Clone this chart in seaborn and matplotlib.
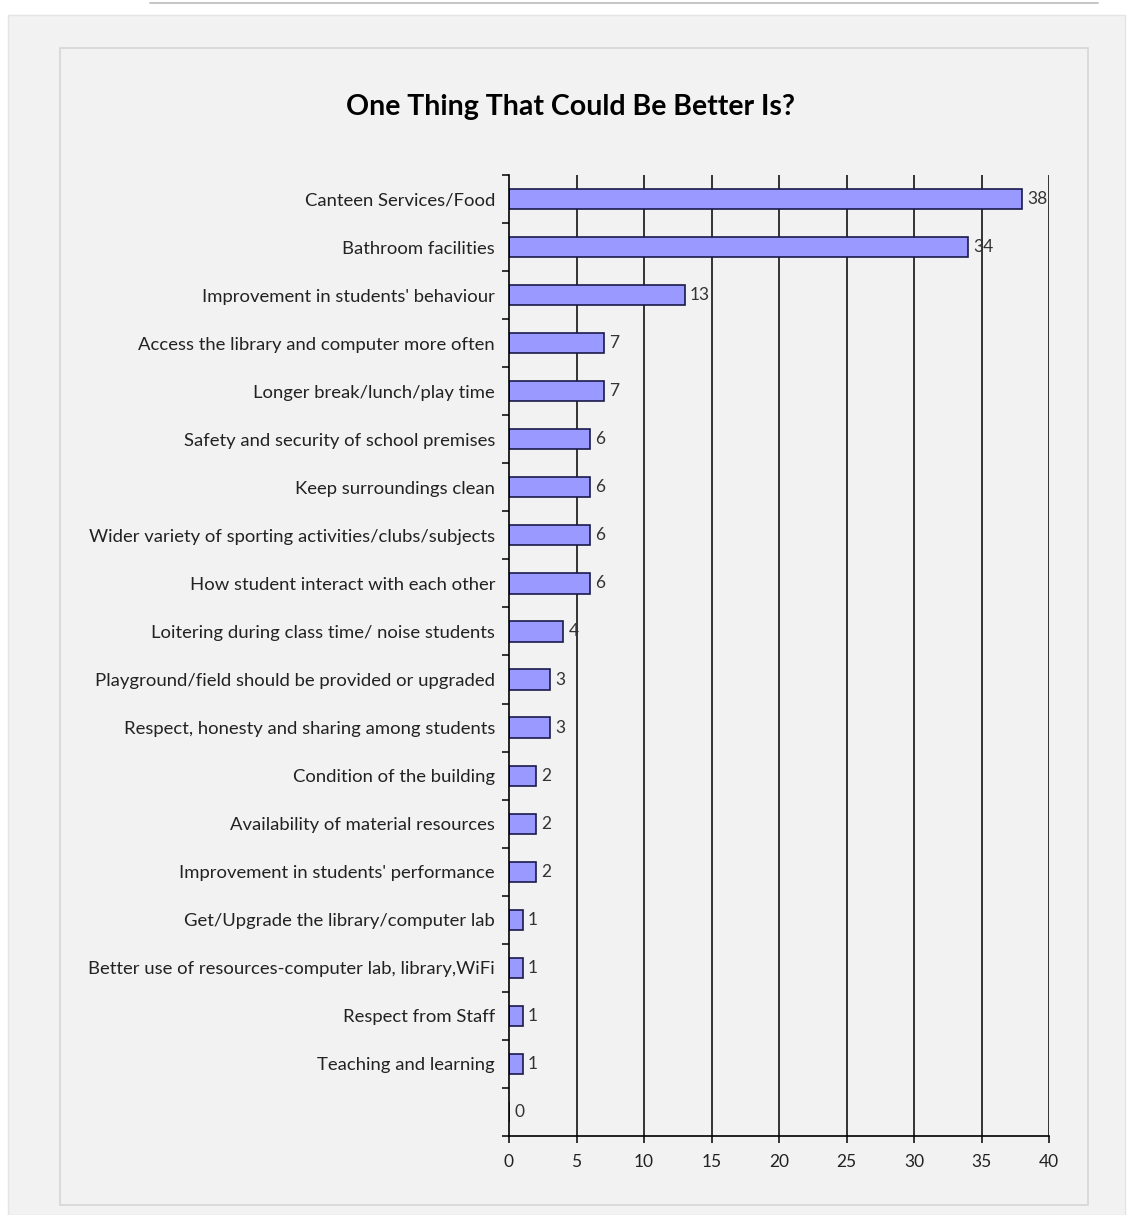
import matplotlib
matplotlib.use("Agg")
import matplotlib.pyplot as plt
import seaborn as sns
import pandas as pd
from matplotlib.patches import Rectangle
from matplotlib.lines import Line2D
from matplotlib.ticker import FixedLocator

categories = [
    "Canteen Services/Food",
    "Bathroom facilities",
    "Improvement in students' behaviour",
    "Access the library and computer more often",
    "Longer break/lunch/play time",
    "Safety and security of school premises",
    "Keep surroundings clean",
    "Wider variety of sporting activities/clubs/subjects",
    "How student interact with each other",
    "Loitering during class time/ noise students",
    "Playground/field should be provided or upgraded",
    "Respect, honesty and sharing among students",
    "Condition of the building",
    "Availability of material resources",
    "Improvement in students' performance",
    "Get/Upgrade the library/computer lab",
    "Better use of resources-computer lab, library,WiFi",
    "Respect from Staff",
    "Teaching and learning",
    "",
]
counts = [38, 34, 13, 7, 7, 6, 6, 6, 6, 4, 3, 3, 2, 2, 2, 1, 1, 1, 1, 0]
x_ticks = [0, 5, 10, 15, 20, 25, 30, 35, 40]

df = pd.DataFrame({"item": categories, "count": counts})

sns.set_style("white")
plt.rcParams["font.family"] = ["Lato", "DejaVu Sans"]

W, H = 1132, 1215
fig = plt.figure(figsize=(W / 100, H / 100), dpi=100)
fig.patch.set_facecolor("white")

# page decorations: outer grey panel, inner chart border, top rule
fig.patches.append(Rectangle((8 / W, 0), (1125 - 8) / W, (H - 15) / H,
                             transform=fig.transFigure, facecolor="#F2F2F2",
                             edgecolor="#E4E4E4", lw=1, zorder=-3))
fig.patches.append(Rectangle((60 / W, 1 - 1205 / H), (1088 - 60) / W, (1205 - 48) / H,
                             transform=fig.transFigure, facecolor="#F2F2F2",
                             edgecolor="#D6D6D6", lw=1.2, zorder=-2))
fig.lines.append(Line2D([150 / W, 1098 / W], [1 - 3 / H, 1 - 3 / H],
                        transform=fig.transFigure, color="#BBBBBB", lw=1.2, zorder=-2))

ax = fig.add_axes([509 / W, 1 - 1136 / H, (1049 - 509) / W, (1136 - 175) / H])
ax.set_facecolor("#F2F2F2")

sns.barplot(data=df, x="count", y="item", orient="h", color="#9999FF",
            edgecolor="#1A1A4A", linewidth=1.2, width=0.42, saturation=1, ax=ax)

ax.set_xlim(0, 40)
ax.set_ylim(len(categories) - 0.5, -0.5)
ax.set_xticks(x_ticks)
for v in x_ticks[1:]:
    ax.axvline(v, color="black", lw=1.1, zorder=0)

ax.bar_label(ax.containers[0], labels=[str(c) for c in counts], padding=4,
             fontsize=12.5, color="#333333")

ax.set_xlabel("")
ax.set_ylabel("")
for s in ["top", "right"]:
    ax.spines[s].set_visible(False)
for s in ["left", "bottom"]:
    ax.spines[s].set_color("black")
    ax.spines[s].set_linewidth(1.2)

ax.tick_params(axis="y", which="major", left=False, length=0, pad=10, labelsize=13.3,
               labelcolor="#222222")
ax.yaxis.set_minor_locator(FixedLocator([i - 0.5 for i in range(len(categories) + 1)]))
ax.tick_params(axis="y", which="minor", left=True, length=5, width=1.1, color="black",
               direction="out")
ax.tick_params(axis="x", bottom=True, length=5, width=1.1, color="black", direction="out",
               labelsize=12.5, labelcolor="#222222", pad=8)

fig.text(571 / W, 1 - 107 / H, "One Thing That Could Be Better Is?", ha="center",
         va="center", fontsize=20.5, fontweight="bold", color="black")

fig.savefig("out.png", dpi=100, facecolor=fig.get_facecolor())
